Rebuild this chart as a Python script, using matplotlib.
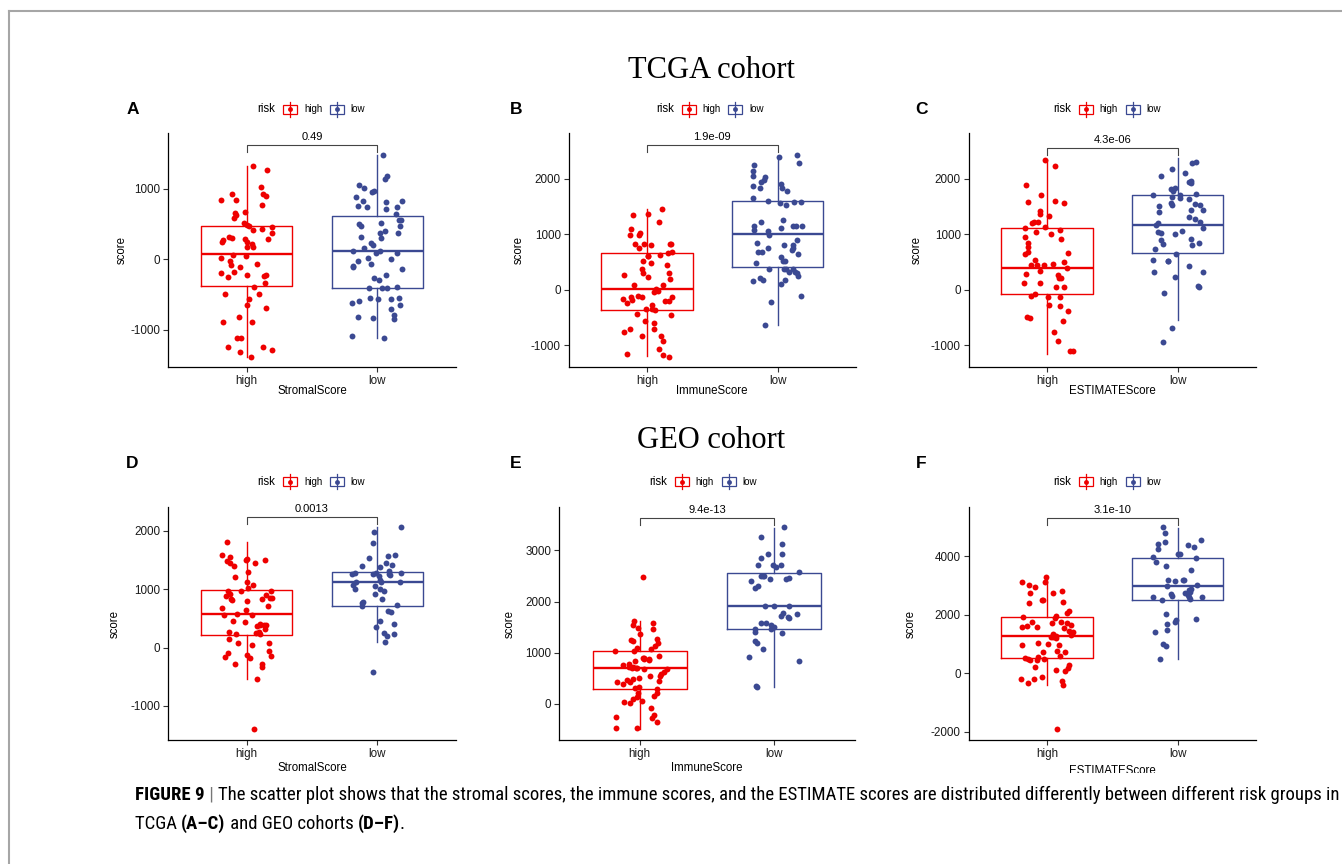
import numpy as np
import matplotlib
matplotlib.use("Agg")
import matplotlib.pyplot as plt
from matplotlib.patches import Rectangle
from matplotlib.lines import Line2D
from matplotlib.transforms import Bbox
from matplotlib import font_manager

plt.rcParams["font.family"] = ["Liberation Sans", "DejaVu Sans"]
plt.rcParams["axes.unicode_minus"] = False

W, H = 1342, 864
RED = "#EE0000"
BLUE = "#3B4992"

# ---- TCGA cohort scores per risk group ----
stromal_tcga_high = [1324, 1267, 1021, 927, 842, 898, 846, 931, 766, 676, 624, 652, 582, 520, 487,
                     473, 454, 425, 416, 378, 307, 321, 217, 274, 251, 246, 288, 284, 180, 180, 47,
                     66, 14, -19, -66, -80, -109, -189, -236, -255, -180, -227, -222, -331, -388,
                     -492, -492, -567, -643, -686, -823, -884, -884, -1121, -1121, -1243, -1243,
                     -1314, -1286, -1381]
stromal_tcga_low = [1480, 1144, 1187, 1059, 974, 1017, 950, 889, 832, 827, 818, 747, 747, 719, 757,
                    643, 553, 553, 520, 501, 468, 468, 369, 312, 369, 407, 298, 236, 208, 156, 123,
                    85, 85, 118, 24, 0, -104, -66, -95, -24, -137, -227, -260, -288, -388, -411,
                    -402, -411, -553, -563, -567, -544, -591, -648, -624, -700, -790, -813, -827,
                    -851, -1083, -1121]
immune_tcga_high = [1452, 1356, 1212, 1338, 1086, 1020, 990, 978, 822, 798, 750, 822, 822, 822, 672,
                    612, 600, 654, 630, 486, 510, 450, 372, 294, 270, 306, 222, 198, 78, 78, 12,
                    -18, -36, -138, -114, -126, -138, -162, -186, -210, -198, -246, -282, -354,
                    -354, -360, -444, -456, -564, -594, -714, -702, -768, -828, -840, -918, -1068,
                    -1158, -1206, -1176]
immune_tcga_low = [2418, 2382, 2280, 2250, 2136, 2046, 2022, 1974, 1944, 1908, 1872, 1824, 1836,
                   1782, 1650, 1602, 1572, 1560, 1578, 1518, 1260, 1218, 1104, 1146, 1146, 1140,
                   1140, 1068, 990, 1056, 840, 810, 810, 750, 900, 750, 684, 714, 642, 684, 582,
                   516, 516, 474, 372, 372, 318, 372, 372, 324, 294, 246, 204, 162, 174, 174, 102,
                   -114, -216, -642]
estimate_tcga_high = [2328, 2232, 1890, 1698, 1578, 1596, 1554, 1410, 1368, 1326, 1200, 1212, 1224,
                      1128, 1104, 1068, 996, 1032, 948, 906, 846, 768, 684, 642, 660, 528, 450, 492,
                      468, 444, 450, 384, 330, 258, 276, 204, 204, 48, 54, 126, 120, -138, -138,
                      -108, -84, -282, -294, -390, -486, -516, -564, -768, -918, -1110, -1104]
estimate_tcga_low = [2292, 2274, 2178, 2106, 2046, 1956, 1920, 1938, 1836, 1812, 1776, 1704, 1716,
                     1710, 1674, 1650, 1638, 1566, 1542, 1524, 1524, 1506, 1428, 1428, 1398, 1302,
                     1266, 1218, 1194, 1164, 1104, 1044, 1026, 1056, 996, 918, 888, 846, 816, 804,
                     738, 642, 528, 522, 522, 426, 234, 312, 318, 60, 54, -60, -684, -936]

# ---- GEO cohort scores per risk group ----
stromal_geo_high = [1817, 1587, 1513, 1479, 1450, 1507, 1501, 1547, 1450, 1393, 1289, 1209, 1129,
                    1077, 1026, 968, 831, 911, 917, 963, 883, 854, 848, 825, 963, 831, 808, 642,
                    716, 682, 585, 556, 556, 458, 447, 384, 395, 395, 413, 378, 315, 258, 269, 229,
                    264, 229, 155, 86, 46, 80, -63, -86, -120, -166, -143, -178, -281, -287, -327,
                    -533, -1398]
stromal_geo_low = [2069, 1977, 1799, 1570, 1587, 1530, 1444, 1404, 1375, 1410, 1272, 1312, 1261,
                   1278, 1278, 1266, 1266, 1232, 1244, 1129, 1129, 1152, 1129, 1072, 1049, 974,
                   1003, 1003, 837, 791, 762, 739, 716, 917, 619, 625, 458, 413, 355, 246, 241,
                   206, 103, -424]
immune_geo_high = [2472, 1620, 1588, 1535, 1477, 1464, 1366, 1249, 1269, 1230, 1197, 1139, 1087,
                   1080, 1041, 1034, 930, 898, 904, 872, 859, 872, 839, 768, 781, 716, 696, 690,
                   696, 709, 729, 677, 631, 579, 495, 462, 547, 514, 547, 429, 442, 429, 338, 384,
                   319, 286, 221, 208, 156, 130, 104, 52, 33, 20, -78, -221, -260, -280, -351,
                   -475, -475]
immune_geo_low = [3448, 3260, 3116, 2928, 2921, 2850, 2707, 2674, 2707, 2707, 2576, 2505, 2498,
                  2492, 2407, 2433, 2459, 2433, 2303, 2264, 1906, 1913, 1913, 1757, 1770, 1711,
                  1672, 1692, 1575, 1575, 1548, 1509, 1457, 1457, 1379, 1399, 1230, 1197, 1080,
                  833, 911, 338, 351]
estimate_geo_high = [3290, 3130, 3130, 3005, 2960, 2823, 2755, 2732, 2493, 2493, 2436, 2402, 2140,
                     2049, 1947, 1935, 1878, 1730, 1764, 1742, 1662, 1708, 1605, 1582, 1582, 1560,
                     1446, 1400, 1343, 1286, 1218, 1229, 1321, 1252, 1024, 990, 968, 979, 763, 729,
                     740, 592, 569, 535, 490, 444, 444, 478, 285, 228, 171, 114, 68, -137, -205,
                     -262, -182, -330, -398, -1890]
estimate_geo_low = [4986, 4792, 4542, 4496, 4394, 4428, 4303, 4246, 4064, 3962, 4075, 3939, 3814,
                    3654, 3517, 3176, 3176, 3199, 3142, 3028, 2994, 2892, 2732, 2777, 2709, 2846,
                    2664, 2641, 2618, 2595, 2607, 2504, 2550, 2038, 1833, 1844, 1742, 1685, 1469,
                    1400, 990, 933, 478]

# box summaries: (lower whisker, Q1, median, Q3, upper whisker) for high, low
stromal_tcga_box = [(-1381, -379, 75, 472, 1322), (-1121, -412, 122, 619, 1474)]
immune_tcga_box = [(-1194, -360, 12, 654, 1452), (-642, 408, 1008, 1596, 2412)]
estimate_tcga_box = [(-1164, -84, 396, 1116, 2334), (-540, 666, 1158, 1704, 2376)]
stromal_geo_box = [(-539, 223, 579, 991, 1817), (103, 722, 1117, 1301, 2063)]
immune_geo_box = [(-494, 299, 703, 1041, 1614), (338, 1457, 1913, 2550, 3435)]
estimate_geo_box = [(-398, 512, 1286, 1912, 3278), (478, 2504, 2994, 3950, 4963)]

# Wilcoxon p-values and bracket heights
p_labels = ["0.49", "1.9e-09", "4.3e-06", "0.0013", "9.4e-13", "3.1e-10"]
bracket_y = [1622, 2604, 2556, 2241, 3637, 5316]

groups = ["high", "low"]
score_names = ["StromalScore", "ImmuneScore", "ESTIMATEScore"] * 2
letters = ["A", "B", "C", "D", "E", "F"]

panel_data = [
    (stromal_tcga_high, stromal_tcga_low, stromal_tcga_box),
    (immune_tcga_high, immune_tcga_low, immune_tcga_box),
    (estimate_tcga_high, estimate_tcga_low, estimate_tcga_box),
    (stromal_geo_high, stromal_geo_low, stromal_geo_box),
    (immune_geo_high, immune_geo_low, immune_geo_box),
    (estimate_geo_high, estimate_geo_low, estimate_geo_box),
]

# layout in pixels: (left, top, right, bottom), y limits, y ticks
rects = [(168, 133.3, 456, 367), (568.5, 133.3, 856, 367), (968.5, 133.3, 1256, 367),
         (168, 507.3, 456, 740), (559, 507.3, 855, 740), (968.5, 507.3, 1256, 740)]
ylims = [(-1527, 1788), (-1393, 2817), (-1393, 2817),
         (-1583, 2406), (-703, 3840), (-2275, 5673)]
yticks = [[-1000, 0, 1000], [-1000, 0, 1000, 2000], [-1000, 0, 1000, 2000],
          [-1000, 0, 1000, 2000], [0, 1000, 2000, 3000], [-2000, 0, 2000, 4000]]
ylab_x = [122, 519, 917, 115, 510, 911]
xlab_y = [391, 391, 391, 768, 768, 771]
legend_x = [257.7, 656, 1053.3, 257.7, 649.3, 1053.3]
legend_y = [109, 109, 109, 481.7, 481.7, 481.7]
letter_xy = [(132.5, 109), (516, 109), (921, 109), (132.5, 463), (516, 463), (921, 463)]

# narrow sans for the caption if one is available
installed = {f.name for f in font_manager.fontManager.ttflist}
cap_family = [f for f in ["Liberation Sans Narrow", "DejaVu Sans Condensed", "Roboto Condensed",
                          "Liberation Sans"] if f in installed][0]


def fx(x):
    return x / W


def fy(y):
    return 1 - y / H


fig = plt.figure(figsize=(W / 100, H / 100), dpi=100)
rng = np.random.default_rng(7)

for k, (vals_high, vals_low, boxes) in enumerate(panel_data):
    l, t, r, b = rects[k]
    ax = fig.add_axes([fx(l), fy(b), (r - l) / W, (b - t) / H])
    ax.set_xlim(0.4, 2.6)
    ax.set_ylim(*ylims[k])

    for i, (vals, box, col) in enumerate(zip([vals_high, vals_low], boxes, [RED, BLUE])):
        pos = i + 1
        lo, q1, med, q3, hi = box
        stats = [dict(whislo=lo, q1=q1, med=med, q3=q3, whishi=hi, fliers=[])]
        ax.bxp(stats, positions=[pos], widths=0.7, showcaps=False, showfliers=False,
               boxprops=dict(color=col, lw=1.0),
               whiskerprops=dict(color=col, lw=1.0),
               medianprops=dict(color=col, lw=1.7), manage_ticks=False)
        jit = rng.uniform(-0.2, 0.2, len(vals))
        ax.scatter(pos + jit, vals, s=18, color=col, lw=0, zorder=3)

    # significance bracket
    yr = ylims[k][1] - ylims[k][0]
    by = bracket_y[k]
    ax.plot([1, 1, 2, 2], [by - 0.03 * yr, by, by, by - 0.03 * yr], color="#444444", lw=0.8)
    ax.text(1.5, by + 0.012 * yr, p_labels[k], ha="center", va="bottom", fontsize=8)

    ax.set_xticks([1, 2])
    ax.set_xticklabels(groups)
    ax.set_yticks(yticks[k])
    for side in ["top", "right"]:
        ax.spines[side].set_visible(False)
    for side in ["left", "bottom"]:
        ax.spines[side].set_linewidth(0.9)
    ax.tick_params(length=3.5, width=0.8, color="#333333", labelsize=8.4,
                   labelcolor="#1a1a1a", pad=2)

    fig.text(fx(ylab_x[k]), fy((t + b) / 2), "score", rotation=90, ha="center", va="center",
             fontsize=8.3)
    xl = fig.text(fx((l + r) / 2), fy(xlab_y[k]), score_names[k], ha="center", va="center",
                  fontsize=8.3)
    if k == 5:
        # bottom of the last panel is cropped
        xl.set_clip_box(Bbox([[0, H - 773], [W, H]]))
        xl.set_clip_on(True)

    # risk legend above each panel
    x0, yc = legend_x[k], legend_y[k]
    fig.text(fx(x0), fy(yc), "risk", ha="left", va="center", fontsize=8.3)
    for dx, col, lab in [(25.6, RED, "high"), (72.3, BLUE, "low")]:
        fig.add_artist(Rectangle((fx(x0 + dx), fy(yc + 4.5)), 14 / W, 9 / H,
                                 transform=fig.transFigure, fill=False, ec=col, lw=0.9))
        fig.add_artist(Line2D([fx(x0 + dx + 7)] * 2, [fy(yc + 7.5), fy(yc - 7.5)],
                              transform=fig.transFigure, color=col, lw=0.9))
        fig.add_artist(Line2D([fx(x0 + dx + 7)], [fy(yc)], marker="o", ms=3.5, color=col,
                              mec="none", transform=fig.transFigure))
        fig.text(fx(x0 + dx + 20.7), fy(yc), lab, ha="left", va="center", fontsize=7)

    lx, ly = letter_xy[k]
    fig.text(fx(lx), fy(ly), letters[k], ha="center", va="center", fontsize=12.5,
             fontweight="bold")

# cohort headings
for label, yc in [("TCGA cohort", 70), ("GEO cohort", 441)]:
    fig.text(fx(711), fy(yc), label, ha="center", va="center", fontsize=22,
             family="Liberation Serif")

# frame lines
fig.add_artist(Line2D([fx(9), fx(W)], [fy(10.7), fy(10.7)], transform=fig.transFigure,
                      color="#a6a6a6", lw=1.5))
fig.add_artist(Line2D([fx(9), fx(9)], [fy(10.7), fy(H)], transform=fig.transFigure,
                      color="#a6a6a6", lw=1.5))

# caption, written piece by piece so bold parts can be mixed in
renderer = fig.canvas.get_renderer()
line1 = [("FIGURE 9", "bold", "black"), (" | ", "normal", "#777777"),
         ("The scatter plot shows that the stromal scores, the immune scores, and the ESTIMATE "
          "scores are distributed differently between different risk groups in", "normal", "black")]
line2 = [("TCGA ", "normal", "black"), ("(A\u2013C)", "bold", "black"),
         (" and GEO cohorts ", "normal", "black"), ("(D\u2013F)", "bold", "black"),
         (".", "normal", "black")]


def put_line(pieces, x_start, yc, size):
    x = x_start
    for txt, weight, col in pieces:
        t = fig.text(fx(x), fy(yc), txt, ha="left", va="center", fontsize=size,
                     fontweight=weight, color=col, family=cap_family)
        x += t.get_window_extent(renderer).width
    return x


cap_size = 11.5
probe = fig.text(0, 0, "".join(p[0] for p in line1), fontsize=cap_size, family=cap_family)
cap_size *= (1337 - 135) / probe.get_window_extent(renderer).width
probe.remove()
put_line(line1, 135, 795, cap_size)
put_line(line2, 135, 824, cap_size)

fig.savefig("out.png", dpi=100)
